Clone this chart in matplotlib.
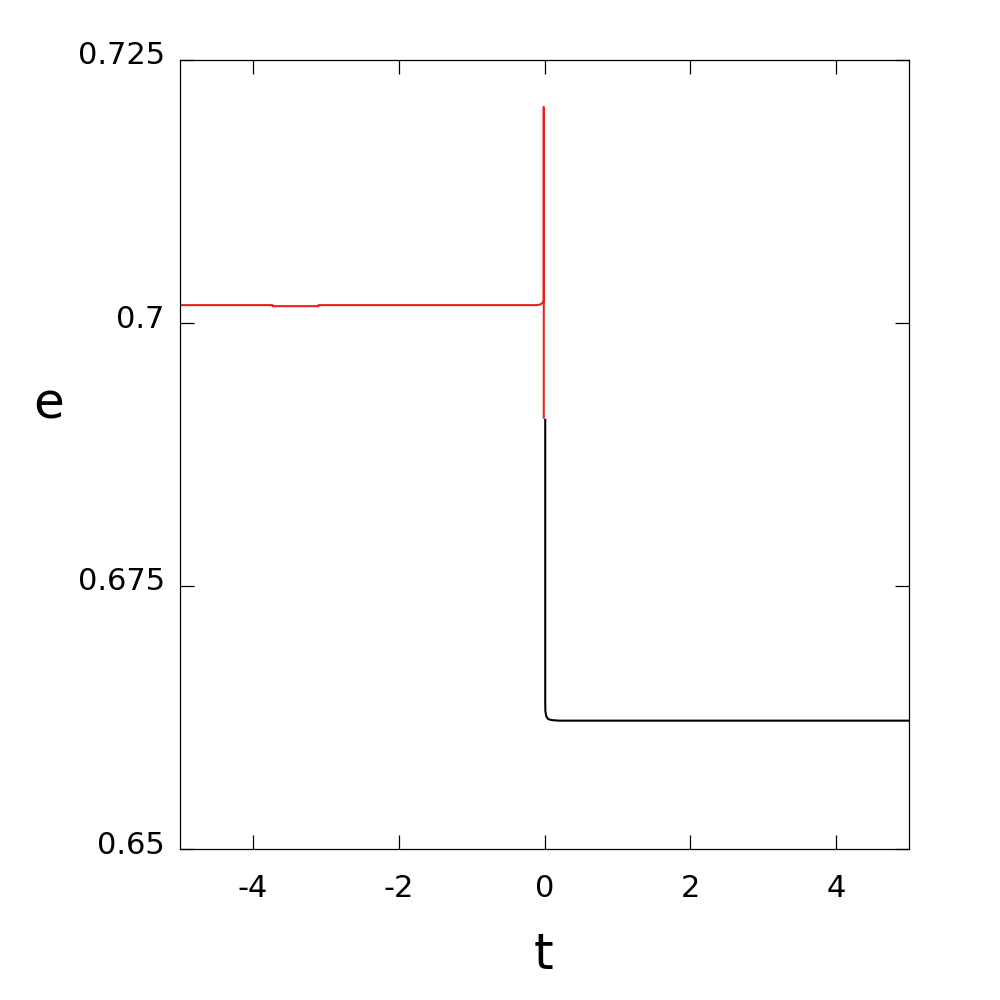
import numpy as np
from matplotlib import pyplot as plt
from matplotlib import transforms

# red branch (t < 0)
t_red = [-5.0, -3.73, -3.73, -3.10, -3.10, -0.12, -0.06, -0.03, -0.01, -0.01, -0.01]
e_red = [0.7017, 0.7017, 0.7016, 0.7016, 0.7017, 0.7017, 0.70175, 0.7019, 0.7021, 0.7205, 0.6910]

# black branch (t > 0)
t_blk = [0.01, 0.01, 0.012, 0.025, 0.05, 0.10, 0.20, 1.0, 3.0, 5.0]
e_blk = [0.6908, 0.6640, 0.6631, 0.6626, 0.66235, 0.66225, 0.6622, 0.6622, 0.6622, 0.6622]

xticks = [-4, -2, 0, 2, 4]
yticks = [0.65, 0.675, 0.7, 0.725]
ytick_labels = ['0.65', '0.675', '0.7', '0.725']

fig = plt.figure(figsize=(10, 10), dpi=100)
ax = fig.add_axes([0.18, 0.151, 0.729, 0.789])

ax.plot(t_red, e_red, c='#e8221a', lw=1.5)
ax.plot(t_blk, e_blk, c='k', lw=1.5)

ax.set_xlim(-5, 5)
ax.set_ylim(0.65, 0.725)
ax.set_xticks(xticks)
ax.set_xticklabels([str(v) for v in xticks])
ax.set_yticks(yticks)
ax.set_yticklabels(ytick_labels)

for s in ax.spines.values():
    s.set_linewidth(0.9)
ax.tick_params(direction='in', length=10, width=0.9, top=True, right=True, labelsize=22)
ax.tick_params(axis='x', pad=18)
ax.tick_params(axis='y', pad=11)

# y labels sit a bit above their ticks in the original
shift = transforms.ScaledTranslation(0, 7 / 100, fig.dpi_scale_trans)
for lab in ax.get_yticklabels():
    lab.set_transform(lab.get_transform() + shift)

ax.set_ylabel('e', rotation=0, fontsize=36, ha='center', va='center')
ax.yaxis.set_label_coords(-0.1797, 0.564)
ax.set_xlabel('t', fontsize=36, ha='center', va='center')
ax.xaxis.set_label_coords(0.498, -0.134)

plt.savefig('out.png', dpi=100)
